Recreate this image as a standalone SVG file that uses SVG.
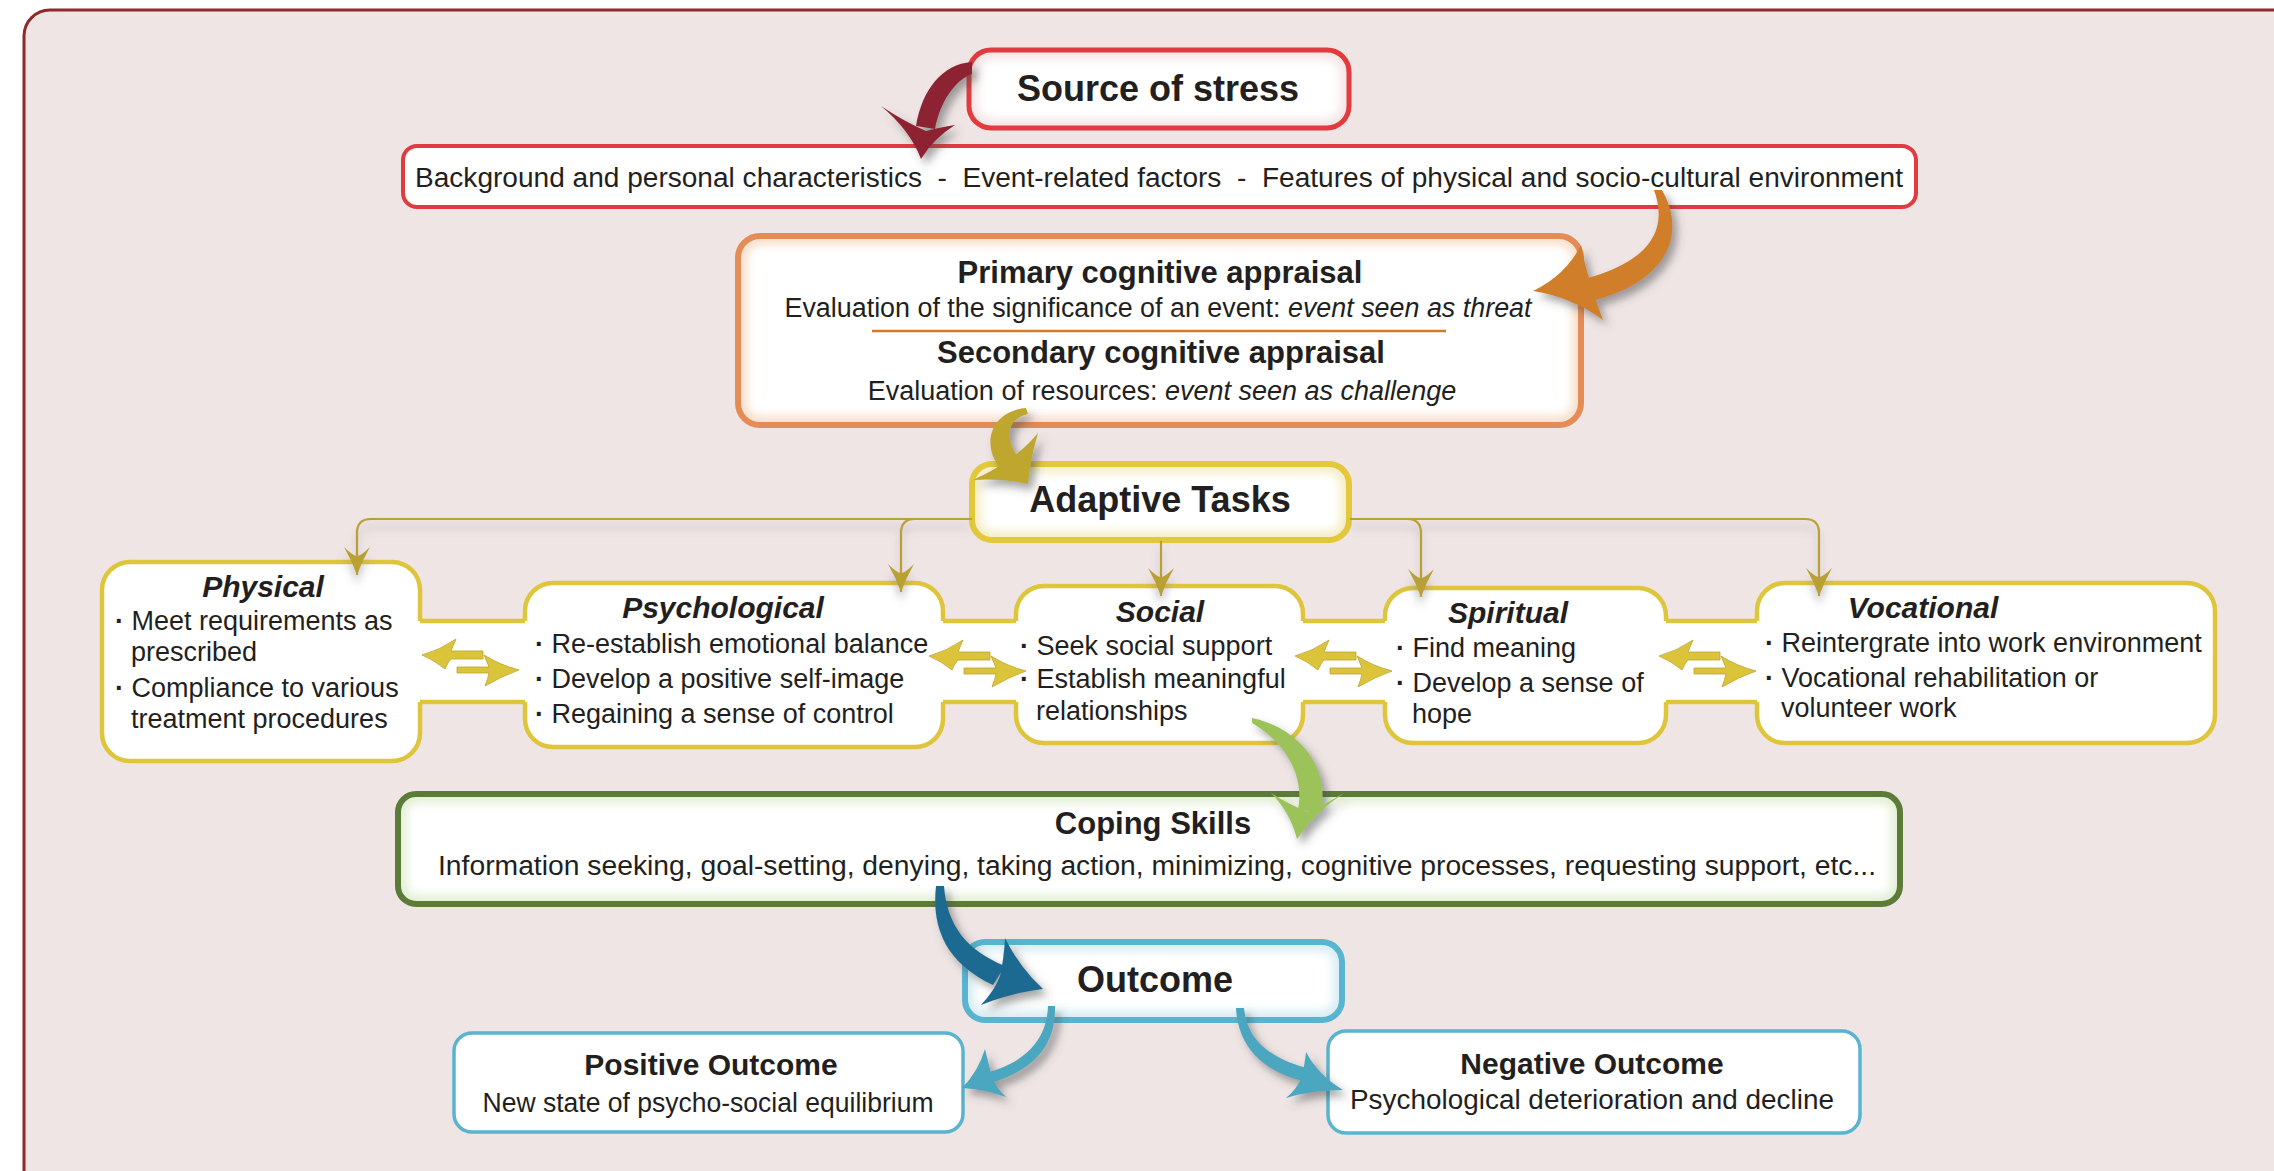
<svg xmlns="http://www.w3.org/2000/svg" width="2274" height="1171" viewBox="0 0 2274 1171">
<defs>
<style>
text{font-family:"Liberation Sans",Arial,Helvetica,sans-serif;fill:#231F20}
.t36{font-size:36px;font-weight:bold}
.h31{font-size:31px;font-weight:bold}
.h30{font-size:30px;font-weight:bold}
.bi{font-size:30px;font-weight:bold;font-style:italic}
.b27{font-size:27px}
.d{font-weight:bold}
.c{text-anchor:middle}
.box{fill:#fff}
.yl{fill:none;stroke:#DEC53C;stroke-width:4.5}
.tree{fill:none;stroke:#B9A034;stroke-width:2.2}
.dbl{fill:#DCC43A;stroke:#BBA32E;stroke-width:0.8}
.glow{fill:none;stroke-width:18;filter:url(#blur)}
</style>
<filter id="shadow" x="-40%" y="-40%" width="180%" height="180%"><feDropShadow dx="5" dy="6" stdDeviation="4" flood-color="#4a4a4a" flood-opacity="0.5"/></filter>
<filter id="lineShadow" x="-10%" y="-20%" width="120%" height="160%"><feDropShadow dx="0" dy="8" stdDeviation="4" flood-color="#8a7f85" flood-opacity="0.45"/></filter>
<filter id="blur" x="-10%" y="-30%" width="120%" height="160%"><feGaussianBlur stdDeviation="5"/></filter>
<clipPath id="cpSource"><rect x="969" y="50" width="380" height="78" rx="22"/></clipPath>
<clipPath id="cpAppraisal"><rect x="738" y="236" width="843" height="189" rx="22"/></clipPath>
<clipPath id="cpAdaptive"><rect x="972" y="464" width="377" height="76" rx="20"/></clipPath>
<clipPath id="cpCoping"><rect x="398" y="794" width="1502" height="110" rx="18"/></clipPath>
<clipPath id="cpOutcome"><rect x="965" y="942" width="377" height="78" rx="20"/></clipPath>
<marker id="barb" viewBox="-30 -14 32 28" markerWidth="32" markerHeight="28" refX="0" refY="0" orient="auto" markerUnits="userSpaceOnUse"><path d="M0,0 Q-14,-5 -28,-13 Q-19,-4 -19,0 Q-19,4 -28,13 Q-14,5 0,0Z" fill="#B9A034"/></marker>
<g id="dbl">
<path class="dbl" d="M13,-11 H-19 Q-17,-16 -14,-23 Q-30,-12 -48,-7 Q-36,-2 -25,7 Q-22,0 -19,-3 H13 Z"/>
<path class="dbl" d="M-13,5 H19 Q17,0 14,-7 Q30,3 49,8 Q32,14 15,24 Q18,16 19,11 H-13 Z"/>
</g>
</defs>

<rect x="24" y="10" width="2290" height="1210" rx="26" fill="#EFE5E5" stroke="#8E2A2A" stroke-width="3"/>

<g id="source">
<rect x="969" y="50" width="380" height="78" rx="22" class="box"/>
<rect x="969" y="50" width="380" height="78" rx="22" class="glow" stroke="#F4E4E4" clip-path="url(#cpSource)"/>
<rect x="969" y="50" width="380" height="78" rx="22" fill="none" stroke="#E23B3F" stroke-width="5"/>
<text x="1158" y="101" class="t36 c" font-size="37">Source of stress</text>
</g>

<g id="factors">
<rect x="403" y="146" width="1513" height="61" rx="14" class="box" stroke="#E23B3F" stroke-width="4"/>
<text x="415" y="187" class="b27" xml:space="preserve" textLength="1488" lengthAdjust="spacingAndGlyphs">Background and personal characteristics  -  Event-related factors  -  Features of physical and socio-cultural environment</text>
</g>

<g id="appraisal">
<rect x="738" y="236" width="843" height="189" rx="22" class="box"/>
<rect x="738" y="236" width="843" height="189" rx="22" class="glow" stroke="#F7DFCB" clip-path="url(#cpAppraisal)"/>
<rect x="738" y="236" width="843" height="189" rx="22" fill="none" stroke="#E48C55" stroke-width="6"/>
<text x="1160" y="283" class="h31 c">Primary cognitive appraisal</text>
<text x="1158" y="317" class="b27 c" textLength="747" lengthAdjust="spacingAndGlyphs">Evaluation of the significance of an event: <tspan font-style="italic">event seen as threat</tspan></text>
<line x1="872" y1="331" x2="1446" y2="331" stroke="#D07A2A" stroke-width="2.5"/>
<text x="1161" y="363" class="h31 c">Secondary cognitive appraisal</text>
<text x="1162" y="400" class="b27 c">Evaluation of resources: <tspan font-style="italic">event seen as challenge</tspan></text>
</g>

<g id="adaptive">
<rect x="972" y="464" width="377" height="76" rx="20" class="box"/>
<rect x="972" y="464" width="377" height="76" rx="20" class="glow" stroke="#F5EDC4" clip-path="url(#cpAdaptive)"/>
<rect x="972" y="464" width="377" height="76" rx="20" fill="none" stroke="#E2C83A" stroke-width="6"/>
<text x="1160" y="512" class="t36 c" font-size="37">Adaptive Tasks</text>
</g>

<g id="task-band">
<rect x="416" y="621" width="1346" height="81" fill="#fff"/>
<path class="yl" d="M412,621 H1765 M412,702 H1765"/>
</g>

<g id="physical">
<rect x="102" y="562" width="318" height="199" rx="28" class="box"/>
<path class="yl" d="M420,702 V733 A28,28 0 0 1 392,761 H130 A28,28 0 0 1 102,733 V590 A28,28 0 0 1 130,562 H392 A28,28 0 0 1 420,590 V621"/>
<text x="263" y="597" class="bi c">Physical</text>
<text x="115" y="630" class="b27"><tspan class="d">·</tspan> Meet requirements as</text>
<text x="131" y="661" class="b27">prescribed</text>
<text x="115" y="697" class="b27"><tspan class="d">·</tspan> Compliance to various</text>
<text x="131" y="728" class="b27">treatment procedures</text>
</g>

<g id="psychological">
<rect x="525" y="583" width="418" height="164" rx="28" class="box"/>
<path class="yl" d="M525,621 V611 A28,28 0 0 1 553,583 H915 A28,28 0 0 1 943,611 V621 M525,702 V719 A28,28 0 0 0 553,747 H915 A28,28 0 0 0 943,719 V702"/>
<text x="723" y="618" class="bi c">Psychological</text>
<text x="535" y="653" class="b27"><tspan class="d">·</tspan> Re-establish emotional balance</text>
<text x="535" y="688" class="b27"><tspan class="d">·</tspan> Develop a positive self-image</text>
<text x="535" y="723" class="b27"><tspan class="d">·</tspan> Regaining a sense of control</text>
</g>

<g id="social">
<rect x="1016" y="586" width="287" height="157" rx="28" class="box"/>
<path class="yl" d="M1016,621 V614 A28,28 0 0 1 1044,586 H1275 A28,28 0 0 1 1303,614 V621 M1016,702 V715 A28,28 0 0 0 1044,743 H1275 A28,28 0 0 0 1303,715 V702"/>
<text x="1160" y="622" class="bi c">Social</text>
<text x="1020" y="655" class="b27"><tspan class="d">·</tspan> Seek social support</text>
<text x="1020" y="688" class="b27"><tspan class="d">·</tspan> Establish meaningful</text>
<text x="1036" y="720" class="b27">relationships</text>
</g>

<g id="spiritual">
<rect x="1385" y="588" width="281" height="155" rx="28" class="box"/>
<path class="yl" d="M1385,621 V616 A28,28 0 0 1 1413,588 H1638 A28,28 0 0 1 1666,616 V621 M1385,702 V715 A28,28 0 0 0 1413,743 H1638 A28,28 0 0 0 1666,715 V702"/>
<text x="1508" y="623" class="bi c">Spiritual</text>
<text x="1396" y="657" class="b27"><tspan class="d">·</tspan> Find meaning</text>
<text x="1396" y="692" class="b27"><tspan class="d">·</tspan> Develop a sense of</text>
<text x="1412" y="723" class="b27">hope</text>
</g>

<g id="vocational">
<rect x="1757" y="583" width="458" height="160" rx="28" class="box"/>
<path class="yl" d="M1757,621 V611 A28,28 0 0 1 1785,583 H2187 A28,28 0 0 1 2215,611 V715 A28,28 0 0 1 2187,743 H1785 A28,28 0 0 1 1757,715 V702"/>
<text x="1923" y="618" class="bi c">Vocational</text>
<text x="1765" y="652" class="b27"><tspan class="d">·</tspan> Reintergrate into work environment</text>
<text x="1765" y="687" class="b27"><tspan class="d">·</tspan> Vocational rehabilitation or</text>
<text x="1781" y="717" class="b27">volunteer work</text>
</g>

<g id="coping">
<rect x="398" y="794" width="1502" height="110" rx="18" class="box"/>
<rect x="398" y="794" width="1502" height="110" rx="18" class="glow" stroke="#E2EFD3" clip-path="url(#cpCoping)"/>
<rect x="398" y="794" width="1502" height="110" rx="18" fill="none" stroke="#5B7B38" stroke-width="6"/>
<text x="1153" y="834" class="h31 c" font-size="32">Coping Skills</text>
<text x="1157" y="875" class="b27 c" textLength="1438" lengthAdjust="spacingAndGlyphs">Information seeking, goal-setting, denying, taking action, minimizing, cognitive processes, requesting support, etc...</text>
</g>

<g id="outcome">
<rect x="965" y="942" width="377" height="78" rx="20" class="box"/>
<rect x="965" y="942" width="377" height="78" rx="20" class="glow" stroke="#D5EDF4" clip-path="url(#cpOutcome)"/>
<rect x="965" y="942" width="377" height="78" rx="20" fill="none" stroke="#58B4CF" stroke-width="6"/>
<text x="1155" y="992" class="t36 c">Outcome</text>
</g>

<g id="positive">
<rect x="454" y="1033" width="509" height="99" rx="18" class="box" stroke="#58B4CF" stroke-width="3.5"/>
<text x="711" y="1075" class="h30 c">Positive Outcome</text>
<text x="708" y="1112" class="b27 c" textLength="451" lengthAdjust="spacingAndGlyphs">New state of psycho-social equilibrium</text>
</g>

<g id="negative">
<rect x="1328" y="1031" width="532" height="102" rx="18" class="box" stroke="#58B4CF" stroke-width="3.5"/>
<text x="1592" y="1074" class="h30 c">Negative Outcome</text>
<text x="1592" y="1109" class="b27 c" textLength="484" lengthAdjust="spacingAndGlyphs">Psychological deterioration and decline</text>
</g>

<g id="connectors">
<g filter="url(#lineShadow)">
<path class="tree" d="M972,519 H371 Q357,519 357,533 V575" marker-end="url(#barb)"/>
<path class="tree" d="M915,519 Q901,519 901,533 V592" marker-end="url(#barb)"/>
<path class="tree" d="M1161,541 V596" marker-end="url(#barb)"/>
<path class="tree" d="M1407,519 Q1421,519 1421,533 V597" marker-end="url(#barb)"/>
<path class="tree" d="M1350,519 H1805 Q1819,519 1819,533 V596" marker-end="url(#barb)"/>
</g>
<use href="#dbl" transform="translate(470,662)"/>
<use href="#dbl" transform="translate(977,663)"/>
<use href="#dbl" transform="translate(1343,663)"/>
<use href="#dbl" transform="translate(1707,663)"/>
<g filter="url(#shadow)">
<g fill="#8C2433">
<path d="M972,62 C942,64 922,90 916,126 L935,129 C940,102 955,80 972,74 Z"/>
<path d="M881,106 Q910,130 921,159 Q934,138 955,125 Q937,128 926,131 Q905,122 881,106 Z"/>
</g>
<g fill="#D07E2C">
<path d="M1654,190 C1668,228 1652,260 1588,278 L1595,300 C1670,280 1686,232 1662,190 Z"/>
<path d="M1581,245 Q1566,275 1533,291 Q1572,297 1603,320 Q1596,302 1593,290 Q1585,268 1581,245 Z"/>
</g>
<g fill="#BFA62E">
<path d="M1026,408 C994,411 980,440 999,467 L1017,456 C1004,436 1008,419 1028,414 Z"/>
<path d="M1038,433 Q1030,460 1028,484 Q1002,478 973,480 Q995,470 1008,460 Q1024,450 1038,433 Z"/>
</g>
<g fill="#9CC35A">
<path d="M1252,718 C1300,728 1332,770 1320,812 L1298,810 C1305,775 1285,742 1252,723 Z"/>
<path d="M1271,793 Q1290,812 1297,839 Q1315,812 1344,793 Q1322,806 1308,812 Q1290,805 1271,793 Z"/>
</g>
<g fill="#1F6B92">
<path d="M936,886 C931,930 948,964 993,985 L1005,966 C966,950 947,925 944,886 Z"/>
<path d="M1005,938 Q1020,968 1043,989 Q1010,993 981,1005 Q995,990 1000,976 Q1004,958 1005,938 Z"/>
</g>
<g fill="#4BA6BF">
<path d="M1048,1006 C1047,1040 1025,1062 989,1072 L994,1082 C1036,1068 1056,1044 1055,1006 Z"/>
<path d="M985,1049 Q978,1072 962,1088 Q985,1089 1006,1097 Q996,1088 992,1077 Q988,1062 985,1049 Z"/>
<path d="M1236,1008 C1238,1046 1262,1071 1303,1081 L1306,1068 C1270,1058 1247,1040 1244,1008 Z"/>
<path d="M1306,1052 Q1318,1075 1343,1090 Q1312,1090 1286,1098 Q1298,1088 1302,1076 Q1305,1062 1306,1052 Z"/>
</g>
</g>
</g>
</svg>
